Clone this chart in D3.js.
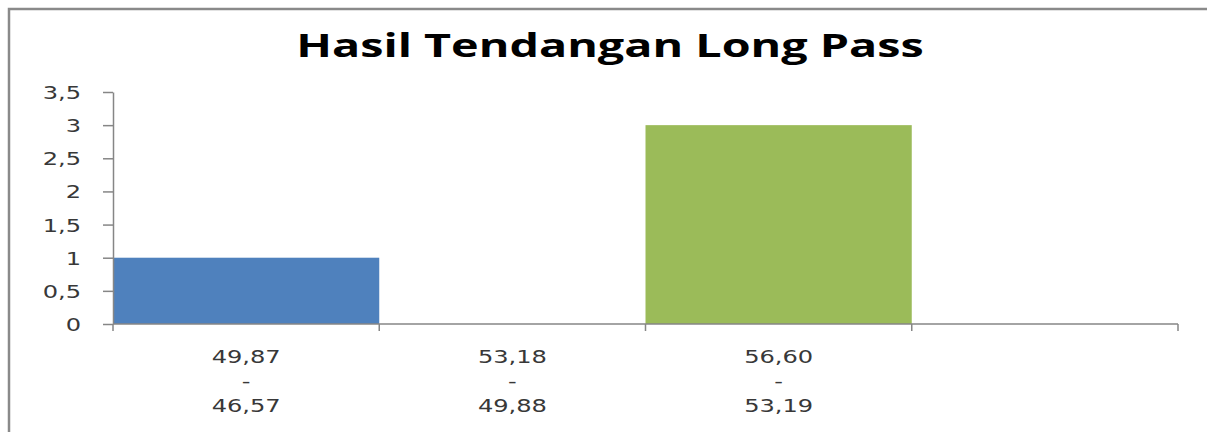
<!DOCTYPE html>
<html>
<head>
<meta charset="utf-8">
<script src="https://cdn.jsdelivr.net/npm/d3@7"></script>
<style>
	body { margin: 0; background: #fff; overflow: hidden; }
	svg { display: block; }
</style>
</head>
<body>
<svg id="chart" width="1207" height="432"></svg>
<script>
// data
const categories = [
	["49,87", "-", "46,57"],
	["53,18", "-", "49,88"],
	["56,60", "-", "53,19"],
	["", "", ""]
];
const values = [1, 0, 3, 0];
const colors = ["#4F81BD", "#C0504D", "#9BBB59", "#8064A2"];
const yTicks = [0, 0.5, 1, 1.5, 2, 2.5, 3, 3.5];
const title = "Hasil Tendangan Long Pass";

const svg = d3.select("#chart");
const stretch = 1.34;	// the source picture is stretched sideways, text too
const fmt = d => String(d).replace(".", ",");

// frame: only left and top edges are inside the picture
svg.append("path")
	.attr("d", "M9,432V9H1207")
	.attr("fill", "none")
	.attr("stroke", "#8a8a8a")
	.attr("stroke-width", 2.5);

let plotLeft = 113, plotRight = 1178, plotTop = 92, plotBottom = 324;

let x = d3.scaleBand().domain(d3.range(categories.length)).range([plotLeft, plotRight]).padding(0);
let y = d3.scaleLinear().domain([0, 3.5]).range([plotBottom, plotTop]);

// bars
svg.selectAll(".bar")
	.data(values)
	.enter().append("rect")
	.attr("class", "bar")
	.attr("x", (d, i) => x(i))
	.attr("y", d => y(d))
	.attr("width", x.bandwidth())
	.attr("height", d => plotBottom - y(d))
	.attr("fill", (d, i) => colors[i]);

// y axis
let yAxis = svg.append("g")
	.attr("transform", "translate(" + plotLeft + ",0)")
	.call(d3.axisLeft(y).tickValues(yTicks).tickFormat(fmt).tickSize(10).tickSizeOuter(0));

yAxis.select(".domain").attr("stroke", "#868686").attr("stroke-width", 1.5);
yAxis.selectAll(".tick line").attr("stroke", "#868686").attr("stroke-width", 1.5);
yAxis.selectAll(".tick text")
	.attr("x", -32 / stretch)
	.attr("dy", "0.36em")
	.attr("transform", "scale(" + stretch + ",1)")
	.attr("fill", "#383838")
	.style("font-family", "DejaVu Sans")
	.style("font-size", "18px");

// x axis: baseline + boundary ticks
let xg = svg.append("g");
xg.append("line")
	.attr("x1", plotLeft).attr("x2", plotRight)
	.attr("y1", plotBottom).attr("y2", plotBottom)
	.attr("stroke", "#868686").attr("stroke-width", 1.5);

let bounds = d3.range(categories.length).map(i => x(i)).concat([x(categories.length - 1) + x.bandwidth()]);
xg.selectAll(".xtick")
	.data(bounds)
	.enter().append("line")
	.attr("class", "xtick")
	.attr("x1", d => d).attr("x2", d => d)
	.attr("y1", plotBottom).attr("y2", plotBottom + 7)
	.attr("stroke", "#868686").attr("stroke-width", 1.5);

// category labels, three lines each
let labels = xg.selectAll(".xlabel")
	.data(categories)
	.enter().append("text")
	.attr("class", "xlabel")
	.attr("transform", (d, i) => "translate(" + (x(i) + x.bandwidth() / 2) + ",363) scale(" + stretch + ",1)")
	.attr("text-anchor", "middle")
	.attr("fill", "#383838")
	.style("font-family", "DejaVu Sans")
	.style("font-size", "18px");

labels.selectAll("tspan")
	.data(d => d)
	.enter().append("tspan")
	.attr("x", 0)
	.attr("y", (d, j) => j * 24.5)
	.text(d => d);

// title
svg.append("text")
	.attr("transform", "translate(610,57) scale(1.46,1)")
	.attr("text-anchor", "middle")
	.attr("fill", "#000")
	.style("font-family", "Open Sans")
	.style("font-weight", "bold")
	.style("font-size", "32px")
	.text(title);
</script>
</body>
</html>
